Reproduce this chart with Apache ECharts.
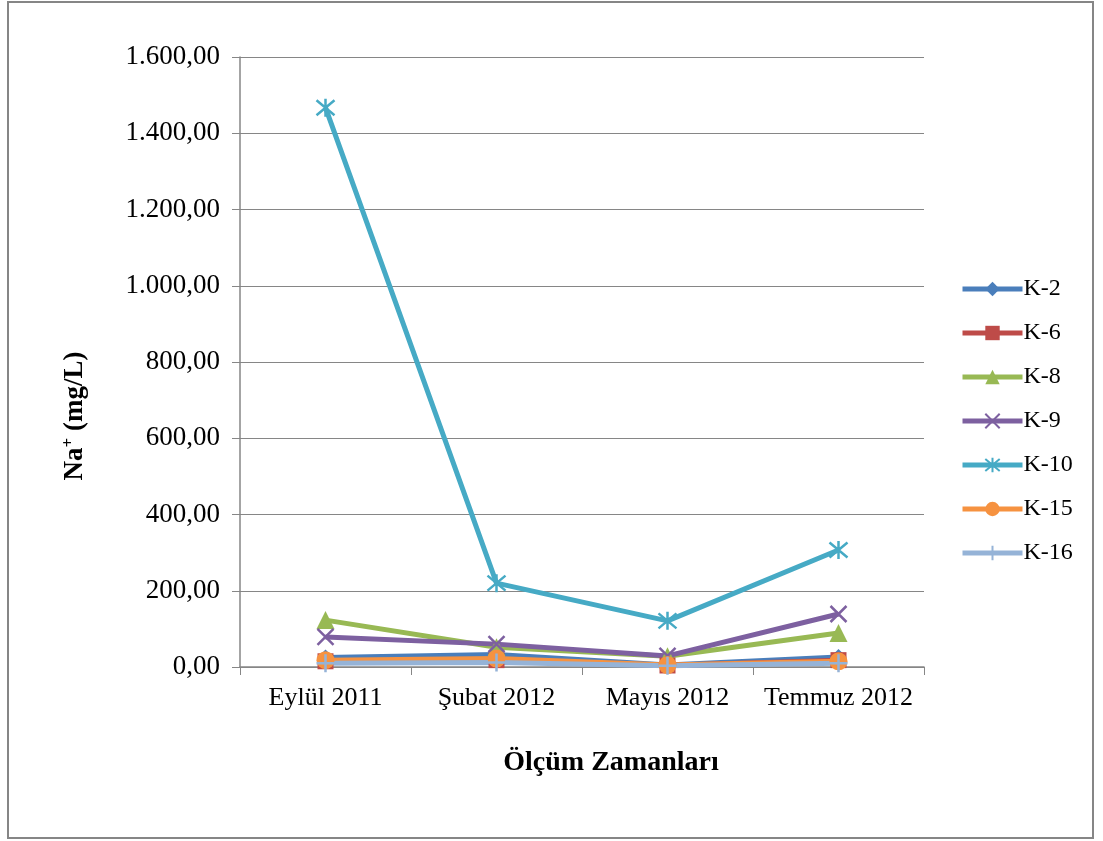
<!DOCTYPE html>
<html>
<head>
<meta charset="utf-8">
<script src="https://cdn.jsdelivr.net/npm/echarts@6/dist/echarts.min.js"></script>
<style>
  html, body { margin: 0; padding: 0; background: #fff; }
  #chart { width: 1103px; height: 841px; }
</style>
</head>
<body>
<div id="chart"></div>
<script>
// ölçüm zamanları
const categories = ['Eylül 2011', 'Şubat 2012', 'Mayıs 2012', 'Temmuz 2012']
const yTicks = [0, 200, 400, 600, 800, 1000, 1200, 1400, 1600]

// Na+ değerleri (mg/L)
const k2 = [25, 33, 5, 26]
const k6 = [15, 18, 4, 18]
const k8 = [123, 52, 28, 89]
const k9 = [79, 60, 29, 139]
const k10 = [1467, 220, 121, 307]
const k15 = [18, 22, 5, 15]
const k16 = [10, 12, 3, 10]

const fmt = v => {
  const s = v.toFixed(2).split('.')
  return s[0].replace(/\B(?=(\d{3})+(?!\d))/g, '.') + ',' + s[1]
}

const crossPath = 'path://M0 0 L10 10 M10 0 L0 10'
const starPath = 'path://M0 0 L10 10 M10 0 L0 10 M5 -1 L5 11'
const plusPath = 'path://M5 0 L5 10 M0 5 L10 5'

const mk = (name, data, color, symbol, size, stroke) => ({
  name,
  type: 'line',
  data,
  symbol,
  symbolSize: size,
  lineStyle: { color, width: 5 },
  itemStyle: stroke
    ? { color: 'transparent', borderColor: color, borderWidth: 2.5 }
    : { color },
  color,
  emphasis: { disabled: true }
})

const chart = echarts.init(document.getElementById('chart'))
chart.setOption({
  animation: false,
  textStyle: { fontFamily: 'Liberation Serif' },
  grid: { left: 240, right: 179, top: 57, bottom: 174 },
  legend: {
    orient: 'vertical',
    left: 955,
    top: 272,
    itemGap: 20,
    itemWidth: 60,
    itemHeight: 18,
    lineStyle: { width: 5 },
    textStyle: { fontSize: 24, color: '#000', fontFamily: 'Liberation Serif', padding: [0, 0, 0, -4] },
    data: ['K-2', 'K-6', 'K-8', 'K-9', 'K-10', 'K-15', 'K-16']
  },
  xAxis: {
    type: 'category',
    data: categories,
    boundaryGap: true,
    axisLine: { lineStyle: { color: '#868686', width: 1.5 } },
    axisTick: { show: true, length: 8, lineStyle: { color: '#868686' } },
    axisLabel: { fontSize: 26, color: '#000', margin: 18, interval: 0, hideOverlap: false }
  },
  yAxis: {
    type: 'value',
    min: 0,
    max: 1600,
    interval: 200,
    axisLine: { show: true, lineStyle: { color: '#868686', width: 1.5 } },
    axisTick: { show: true, length: 8, lineStyle: { color: '#868686' } },
    axisLabel: { fontSize: 27, color: '#000', margin: 20, formatter: v => yTicks.includes(v) ? fmt(v) : '' },
    splitLine: { lineStyle: { color: '#868686', width: 1.2 } }
  },
  graphic: [
    {
      type: 'rect',
      shape: { x: 8, y: 2, width: 1085, height: 836 },
      style: { fill: 'none', stroke: '#868686', lineWidth: 2 }
    },
    {
      // y ekseni başlığı
      type: 'text',
      x: 75,
      y: 416,
      rotation: Math.PI / 2,
      style: {
        text: '{b|Na}{sup|+}{b| (mg/L)}',
        align: 'center',
        verticalAlign: 'middle',
        rich: {
          b: { fontSize: 27, fontWeight: 'bold', fill: '#000', fontFamily: 'Liberation Serif' },
          sup: { fontSize: 17, fontWeight: 'bold', fill: '#000', fontFamily: 'Liberation Serif', verticalAlign: 'top', padding: [0, 0, 12, 0] }
        }
      }
    },
    {
      type: 'text',
      x: 611,
      y: 763,
      style: {
        text: 'Ölçüm Zamanları',
        font: 'bold 28px "Liberation Serif"',
        fill: '#000',
        align: 'center',
        verticalAlign: 'middle'
      }
    }
  ],
  series: [
    mk('K-2', k2, '#4A7EBB', 'diamond', 16, false),
    mk('K-6', k6, '#BE4B48', 'rect', 16, false),
    mk('K-8', k8, '#98B954', 'triangle', 18, false),
    mk('K-9', k9, '#7D60A0', crossPath, 16, true),
    mk('K-10', k10, '#46AAC5', starPath, 18, true),
    mk('K-15', k15, '#F69240', 'circle', 18, false),
    mk('K-16', k16, '#95B3D7', plusPath, 18, true)
  ]
})
</script>
</body>
</html>
